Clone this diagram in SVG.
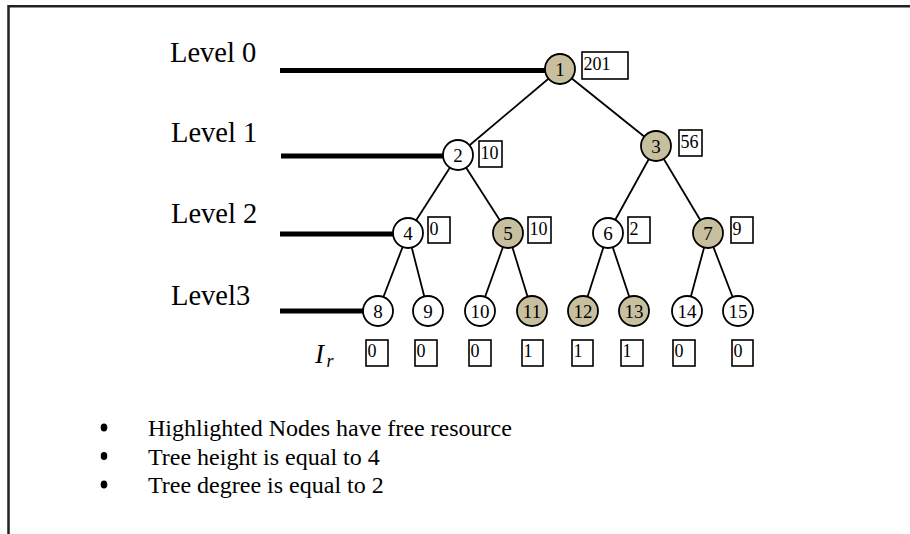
<svg xmlns="http://www.w3.org/2000/svg" width="910" height="534" viewBox="0 0 910 534">
<style>
text{font-family:"Liberation Serif","Times New Roman",serif;fill:#000}
.lvl{font-size:28.5px}
.n circle{stroke:#000;stroke-width:1.8;fill:#fff}
.n.h circle{fill:#c8bf9f}
.n text{font-size:19px;text-anchor:middle}
.b rect{fill:#fff;stroke:#000;stroke-width:1.6}
.b text{font-size:18px}
.e line{stroke:#000;stroke-width:1.8}
.lv line{stroke:#000;stroke-width:5}
.bul{font-size:24px}
</style>
<rect width="910" height="534" fill="#fff"/>
<path d="M8.5,540 V6.2 H920" fill="none" stroke="#222" stroke-width="2.5"/>

<g id="levels">
<text class="lvl" x="170" y="62">Level 0</text>
<text class="lvl" x="171" y="142">Level 1</text>
<text class="lvl" x="171" y="223">Level 2</text>
<text class="lvl" x="171" y="305">Level3</text>
</g>

<g id="connectors">
<g class="lv">
<line x1="280" y1="70.5" x2="548" y2="70.5"/>
<line x1="281" y1="156" x2="445" y2="156"/>
<line x1="280" y1="234" x2="395" y2="234"/>
<line x1="280" y1="311" x2="365" y2="311"/>
</g>
<g class="e">
<line x1="560" y1="69" x2="458" y2="155"/>
<line x1="560" y1="69" x2="656" y2="146"/>
<line x1="458" y1="155" x2="408" y2="233"/>
<line x1="458" y1="155" x2="508" y2="233"/>
<line x1="656" y1="146" x2="608" y2="233"/>
<line x1="656" y1="146" x2="708" y2="233"/>
<line x1="408" y1="233" x2="378" y2="311"/>
<line x1="408" y1="233" x2="428" y2="311"/>
<line x1="508" y1="233" x2="480" y2="311"/>
<line x1="508" y1="233" x2="532" y2="311"/>
<line x1="608" y1="233" x2="583" y2="311"/>
<line x1="608" y1="233" x2="634" y2="311"/>
<line x1="708" y1="233" x2="687" y2="311"/>
<line x1="708" y1="233" x2="738" y2="311"/>
</g>
</g>

<g id="node1" class="n h"><circle cx="560" cy="69" r="15"/><text x="560" y="76">1</text></g>
<g id="node2" class="n"><circle cx="458" cy="155" r="15"/><text x="458" y="162">2</text></g>
<g id="node3" class="n h"><circle cx="656" cy="146" r="15"/><text x="656" y="153">3</text></g>
<g id="node4" class="n"><circle cx="408" cy="233" r="15"/><text x="408" y="240">4</text></g>
<g id="node5" class="n h"><circle cx="508" cy="233" r="15"/><text x="508" y="240">5</text></g>
<g id="node6" class="n"><circle cx="608" cy="233" r="15"/><text x="608" y="240">6</text></g>
<g id="node7" class="n h"><circle cx="708" cy="233" r="15"/><text x="708" y="240">7</text></g>
<g id="node8" class="n"><circle cx="378" cy="311" r="15"/><text x="378" y="318">8</text></g>
<g id="node9" class="n"><circle cx="428" cy="311" r="15"/><text x="428" y="318">9</text></g>
<g id="node10" class="n"><circle cx="480" cy="311" r="15"/><text x="480" y="318">10</text></g>
<g id="node11" class="n h"><circle cx="532" cy="311" r="15"/><text x="532" y="318">11</text></g>
<g id="node12" class="n h"><circle cx="583" cy="311" r="15"/><text x="583" y="318">12</text></g>
<g id="node13" class="n h"><circle cx="634" cy="311" r="15"/><text x="634" y="318">13</text></g>
<g id="node14" class="n"><circle cx="687" cy="311" r="15"/><text x="687" y="318">14</text></g>
<g id="node15" class="n"><circle cx="738" cy="311" r="15"/><text x="738" y="318">15</text></g>

<g id="values" class="b">
<rect x="582" y="52" width="46" height="27"/><text x="583.5" y="70">201</text>
<rect x="479" y="141" width="23" height="26"/><text x="480.5" y="159">10</text>
<rect x="679" y="130" width="23" height="26"/><text x="680.5" y="148">56</text>
<rect x="428" y="217" width="22" height="26"/><text x="429.5" y="235">0</text>
<rect x="528" y="217" width="23" height="26"/><text x="529.5" y="235">10</text>
<rect x="628" y="217" width="22" height="26"/><text x="629.5" y="235">2</text>
<rect x="731" y="217" width="22" height="26"/><text x="732.5" y="235">9</text>
</g>

<g id="ir" class="b">
<text x="315" y="363" style="font-size:27px;font-style:italic">I</text>
<text x="326.5" y="367" style="font-size:18px;font-style:italic">r</text>
<rect x="366" y="340" width="22" height="26"/><text x="367.5" y="357">0</text>
<rect x="415" y="340" width="22" height="26"/><text x="416.5" y="357">0</text>
<rect x="469" y="340" width="22" height="26"/><text x="470.5" y="357">0</text>
<rect x="522" y="340" width="21" height="26"/><text x="523.5" y="357">1</text>
<rect x="572" y="340" width="21" height="26"/><text x="573.5" y="357">1</text>
<rect x="621" y="340" width="22" height="26"/><text x="622.5" y="357">1</text>
<rect x="673" y="340" width="22" height="26"/><text x="674.5" y="357">0</text>
<rect x="732" y="340" width="21" height="26"/><text x="733.5" y="357">0</text>
</g>

<g id="notes">
<ellipse cx="104" cy="427.5" rx="3.3" ry="4"/>
<ellipse cx="104" cy="456" rx="3.3" ry="4"/>
<ellipse cx="104" cy="484.5" rx="3.3" ry="4"/>
<text class="bul" x="148" y="436">Highlighted Nodes have free resource</text>
<text class="bul" x="148" y="464.5">Tree height is equal to 4</text>
<text class="bul" x="148" y="493">Tree degree is equal to 2</text>
</g>
</svg>
